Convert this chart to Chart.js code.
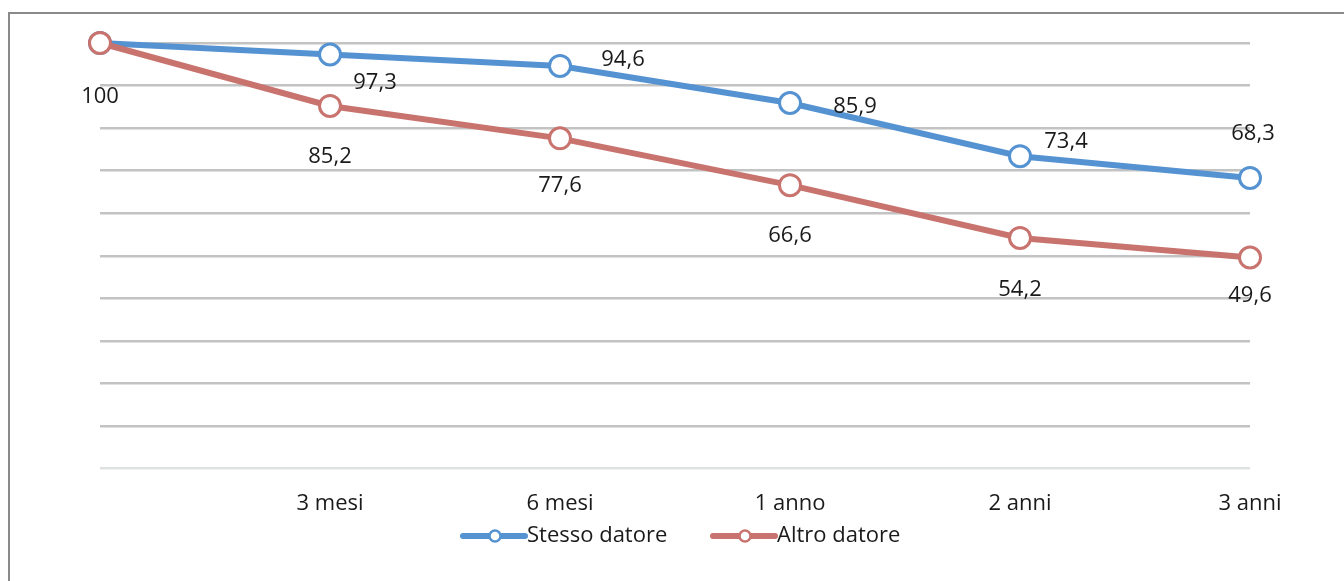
<!DOCTYPE html>
<html>
<head>
<meta charset="utf-8">
<script src="https://cdn.jsdelivr.net/npm/chart.js@4"></script>
<style>
  body { margin: 0; background: #fff; }
  #wrap { position: relative; width: 1344px; height: 581px; }
</style>
</head>
<body>
<div id="wrap"><canvas id="grafico" width="1344" height="581"></canvas></div>
<script>
// Dati del grafico
const periodi = ['', '3 mesi', '6 mesi', '1 anno', '2 anni', '3 anni'];
const stessoDatore = [100, 97.3, 94.6, 85.9, 73.4, 68.3];
const altroDatore = [100, 85.2, 77.6, 66.6, 54.2, 49.6];
const nomiSerie = ['Stesso datore', 'Altro datore'];

const BLU = '#5592d2';
const ROSSO = '#c9736e';
const FONT = '"Open Sans", Lato, sans-serif';
const DIM = 22;

// Spostamento delle etichette rispetto al punto (pixel), null = non disegnare
const spostamenti = [
    [null, [45, 28], [63, -6], [65, 4], [46, -14], [3, -44]],
    [[0, 54], [0, 51], [0, 47], [0, 51], [0, 52], [0, 38]]
];

// Cornice in alto e a sinistra
const cornice = {
    id: 'cornice',
    beforeDraw(chart) {
        const ctx = chart.ctx;
        ctx.save();
        ctx.strokeStyle = '#8a8a8a';
        ctx.lineWidth = 2;
        ctx.beginPath();
        ctx.moveTo(9, 581);
        ctx.lineTo(9, 13);
        ctx.lineTo(1344, 13);
        ctx.stroke();
        ctx.restore();
    }
};

// Etichette dei valori
const etichette = {
    id: 'etichette',
    afterDatasetsDraw(chart) {
        const ctx = chart.ctx;
        ctx.save();
        ctx.font = DIM + 'px ' + FONT;
        ctx.fillStyle = '#1a1a1a';
        ctx.textAlign = 'center';
        ctx.textBaseline = 'middle';
        chart.data.datasets.forEach((ds, i) => {
            chart.getDatasetMeta(i).data.forEach((pt, j) => {
                const off = spostamenti[i][j];
                if (!off) return;
                const testo = String(ds.data[j]).replace('.', ',');
                ctx.fillText(testo, pt.x + off[0], pt.y + off[1]);
            });
        });
        ctx.restore();
    }
};

// Legenda disegnata a mano (linea con cerchio)
const legenda = {
    id: 'legenda',
    afterDraw(chart) {
        const ctx = chart.ctx;
        const y = 536;
        const voci = [
            { x: 463, colore: BLU, testo: nomiSerie[0] },
            { x: 713, colore: ROSSO, testo: nomiSerie[1] }
        ];
        ctx.save();
        voci.forEach(v => {
            ctx.strokeStyle = v.colore;
            ctx.lineWidth = 6;
            ctx.lineCap = 'round';
            ctx.beginPath();
            ctx.moveTo(v.x, y);
            ctx.lineTo(v.x + 62, y);
            ctx.stroke();
            ctx.beginPath();
            ctx.arc(v.x + 32, y, 5.5, 0, Math.PI * 2);
            ctx.fillStyle = '#fff';
            ctx.fill();
            ctx.lineWidth = 2.5;
            ctx.stroke();
            ctx.font = DIM + 'px ' + FONT;
            ctx.fillStyle = '#1a1a1a';
            ctx.textAlign = 'left';
            ctx.textBaseline = 'middle';
            ctx.fillText(v.testo, v.x + 64, y);
        });
        ctx.restore();
    }
};

function serie(label, dati, colore, ordine) {
    return {
        label: label,
        data: dati,
        borderColor: colore,
        borderWidth: 6,
        pointRadius: 10.5,
        pointBorderWidth: 3,
        pointBackgroundColor: '#fff',
        pointBorderColor: colore,
        tension: 0,
        clip: false,
        order: ordine // la serie rossa sta sopra
    };
}

new Chart(document.getElementById('grafico'), {
    type: 'line',
    data: {
        labels: periodi,
        datasets: [
            serie(nomiSerie[0], stessoDatore, BLU, 1),
            serie(nomiSerie[1], altroDatore, ROSSO, 0)
        ]
    },
    options: {
        responsive: false,
        animation: false,
        layout: { padding: { left: 100, right: 94, top: 43, bottom: 50 } },
        plugins: {
            legend: { display: false },
            tooltip: { enabled: false }
        },
        scales: {
            x: {
                offset: false,
                grid: { display: false },
                border: { display: false },
                ticks: {
                    padding: 14,
                    color: '#1a1a1a',
                    font: { family: FONT, size: DIM },
                    maxRotation: 0,
                    autoSkip: false
                }
            },
            y: {
                min: 0,
                max: 100,
                border: { display: false },
                grid: {
                    color: ctx => ctx.tick && ctx.tick.value === 0 ? '#dfe2e2' : '#c3c3c3',
                    lineWidth: 2.5,
                    drawTicks: false
                },
                ticks: { display: false, stepSize: 10 }
            }
        }
    },
    plugins: [cornice, etichette, legenda]
});
</script>
</body>
</html>
